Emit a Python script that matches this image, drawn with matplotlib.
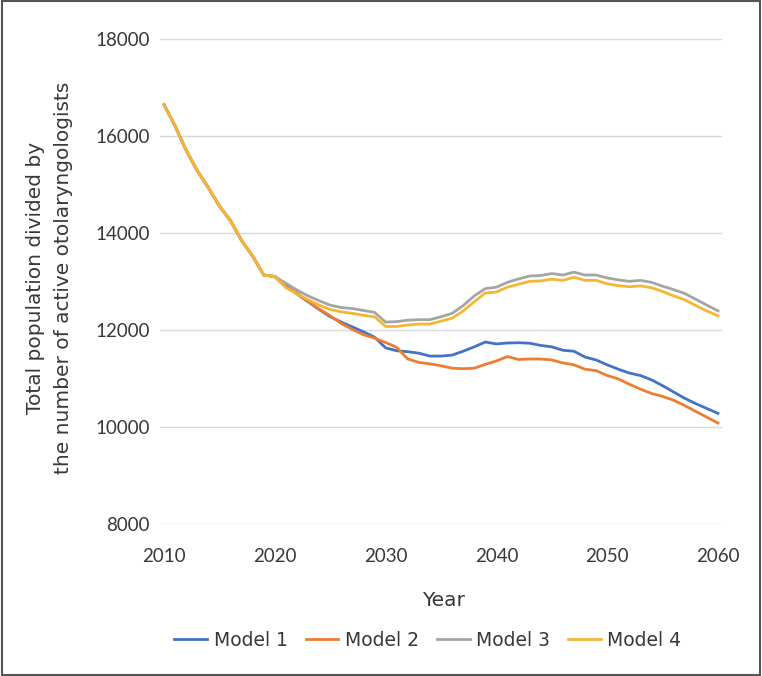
import matplotlib
matplotlib.use("Agg")
import matplotlib.pyplot as plt
from matplotlib.patches import Rectangle

years = list(range(2010, 2061))

common = [16640, 16200, 15700, 15280, 14930, 14550, 14250, 13840, 13520, 13130]

model1 = common + [13100, 12900, 12740, 12580, 12420, 12270, 12160, 12060, 11960, 11850,
                   11630, 11570, 11550, 11520, 11460, 11460, 11480, 11560, 11650, 11750,
                   11710, 11730, 11735, 11725, 11680, 11650, 11580, 11560, 11440, 11380,
                   11280, 11190, 11110, 11060, 10970, 10850, 10720, 10590, 10480, 10380, 10280]
model2 = common + [13100, 12880, 12760, 12590, 12430, 12290, 12130, 12010, 11900, 11830,
                   11740, 11640, 11400, 11330, 11300, 11260, 11210, 11200, 11210, 11290,
                   11360, 11450, 11390, 11400, 11400, 11380, 11320, 11280, 11190, 11160,
                   11060, 10990, 10880, 10780, 10690, 10630, 10550, 10440, 10320, 10200, 10080]
model3 = common + [13100, 12960, 12820, 12700, 12600, 12510, 12460, 12440, 12400, 12360,
                   12160, 12170, 12200, 12210, 12210, 12270, 12340, 12500, 12700, 12850,
                   12880, 12980, 13050, 13110, 13120, 13160, 13130, 13190, 13130, 13130,
                   13070, 13030, 13000, 13020, 12980, 12900, 12830, 12750, 12630, 12510, 12390]
model4 = common + [13100, 12870, 12740, 12620, 12510, 12420, 12370, 12340, 12300, 12270,
                   12070, 12070, 12100, 12120, 12120, 12180, 12240, 12390, 12580, 12760,
                   12780, 12880, 12940, 13000, 13010, 13045, 13020, 13085, 13020, 13020,
                   12950, 12910, 12890, 12905, 12870, 12790, 12700, 12620, 12500, 12390, 12290]

series_names = ["Model 1", "Model 2", "Model 3", "Model 4"]
colors = ["#4472C4", "#ED7D31", "#A5A5A5", "#F6B532"]
x_ticks = [2010, 2020, 2030, 2040, 2050, 2060]
y_ticks = [8000, 10000, 12000, 14000, 16000, 18000]

plt.rcParams['font.family'] = ['DejaVu Sans']
txt = '#383838'

fig = plt.figure(figsize=(7.62, 6.76), dpi=100)
W, H = 762, 676
left, right, top, bottom = 159.6, 722.4, 38.7, 524
ax = fig.add_axes([left / W, 1 - bottom / H, (right - left) / W, (bottom - top) / H])

for name, vals, c in zip(series_names, [model1, model2, model3, model4], colors):
    ax.plot(years, vals, color=c, lw=2.0, label=name, solid_joinstyle='round')

ax.set_xlim(2009.6, 2060.4)
ax.set_ylim(8000, 18000)
ax.set_xticks(x_ticks)
ax.set_yticks(y_ticks)
ax.grid(axis='y', color='#d9d9d9', lw=1)
ax.set_axisbelow(True)
for s in ax.spines.values():
    s.set_visible(False)
ax.tick_params(length=0, labelsize=13.5, colors=txt, pad=7)
ax.tick_params(axis='x', pad=17)
for lab in ax.get_xticklabels() + ax.get_yticklabels():
    lab.set_family('Lato')

fig.text(444 / W, 1 - 600 / H, "Year", ha='center', va='center',
         fontsize=14.5, color=txt)
fig.text(50 / W, 1 - 278 / H, "Total population divided by\nthe number of active otolaryngologists",
         rotation=90, ha='center', va='center', fontsize=14.5, color=txt, linespacing=1.6)

leg = fig.legend(loc='center', bbox_to_anchor=(428 / W, 1 - 640 / H), ncol=4, frameon=False,
                 fontsize=13.5, handlelength=1.75, columnspacing=0.95, handletextpad=0.35)
for t in leg.get_texts():
    t.set_color(txt)

fig.patches.append(Rectangle((0.002, 0.002), 0.996, 0.996, transform=fig.transFigure,
                             fill=False, edgecolor='#555555', lw=1.5))

fig.savefig("out.png", dpi=100)
